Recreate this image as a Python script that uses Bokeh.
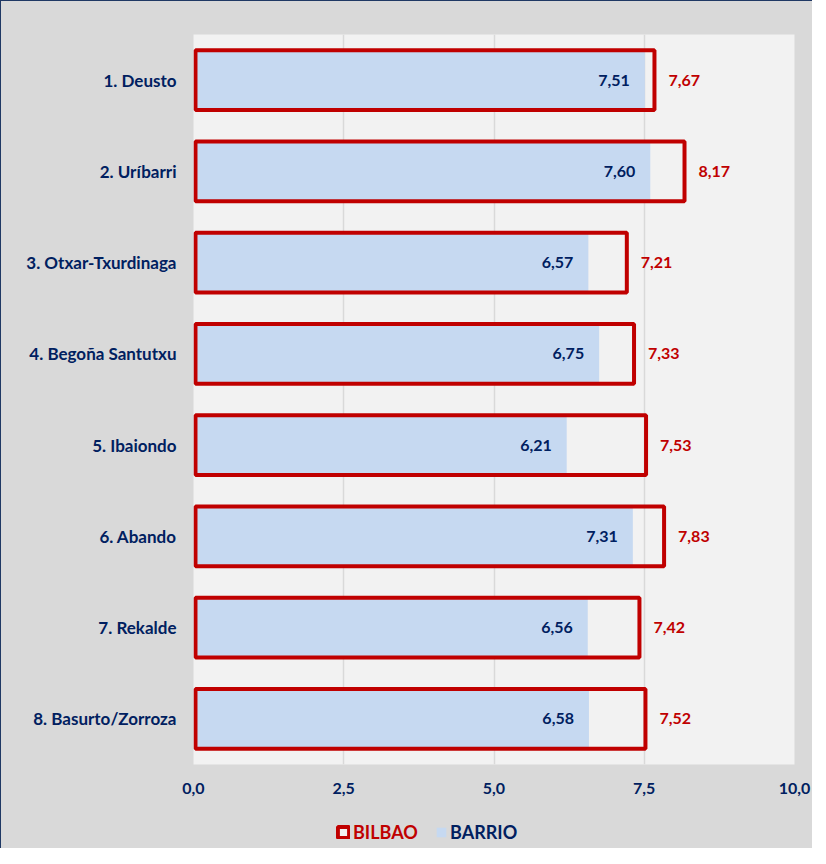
from bokeh.plotting import figure
from bokeh.layouts import column
from bokeh.models import FactorRange, Range1d, FixedTicker, ColumnDataSource, Legend, LegendItem
from bokeh.embed import file_html
from bokeh.resources import INLINE
from bokeh.core.properties import value

barrios = ["1. Deusto", "2. Uríbarri", "3. Otxar-Txurdinaga", "4. Begoña Santutxu",
           "5. Ibaiondo", "6. Abando", "7. Rekalde", "8. Basurto/Zorroza"]
barrio_vals = [7.51, 7.60, 6.57, 6.75, 6.21, 7.31, 6.56, 6.58]
bilbao_vals = [7.67, 8.17, 7.21, 7.33, 7.53, 7.83, 7.42, 7.52]
x_ticks = [0, 2.5, 5, 7.5, 10]
x_tick_labels = ["0,0", "2,5", "5,0", "7,5", "10,0"]
series_names = ["BILBAO", "BARRIO"]

NAVY = "#002060"
RED = "#C00000"
BLUE = "#C6D9F1"
BG = "#D9D9D9"
FONT = "Lato"
W = 812
ML, MR = 192, 19

src = ColumnDataSource(dict(
    cat=barrios,
    barrio=barrio_vals,
    bilbao=bilbao_vals,
    barrio_lbl=[f"{v:.2f}".replace(".", ",") for v in barrio_vals],
    bilbao_lbl=[f"{v:.2f}".replace(".", ",") for v in bilbao_vals],
))

p = figure(width=W, height=805,
           y_range=FactorRange(factors=list(reversed(barrios)), range_padding=0),
           x_range=Range1d(0, 10),
           output_backend="svg", toolbar_location=None,
           min_border_left=ML, min_border_right=MR, min_border_top=33, min_border_bottom=42)
p.styles = {"border-left": "1px solid #1F3864", "border-top": "1px solid #1F3864",
            "background-color": BG}

p.background_fill_color = "#F2F2F2"
p.border_fill_color = BG
p.outline_line_color = None

p.xaxis.ticker = FixedTicker(ticks=x_ticks)
p.xaxis.major_label_overrides = dict(zip(x_ticks, x_tick_labels))
p.xgrid.ticker = FixedTicker(ticks=x_ticks)
p.xgrid.grid_line_color = "#D9D9D9"
p.xgrid.grid_line_width = 1.5
p.ygrid.grid_line_color = None

for ax in (p.xaxis, p.yaxis):
    ax.axis_line_color = None
    ax.major_tick_line_color = None
    ax.minor_tick_line_color = None
    ax.major_tick_out = 0
    ax.major_tick_in = 0
    ax.minor_tick_out = 0
    ax.major_label_text_font = FONT
    ax.major_label_text_font_style = "bold"
    ax.major_label_text_color = NAVY
p.yaxis.major_label_text_font_size = "17px"
p.xaxis.major_label_text_font_size = "16px"
p.yaxis.major_label_standoff = 17
p.xaxis.major_label_standoff = 18

p.hbar(y="cat", left=0, right="barrio", height=0.657, source=src,
       fill_color=BLUE, line_color=None)
p.hbar(y="cat", left=0.033, right="bilbao", height=0.657, source=src,
       fill_color=None, line_color=RED, line_width=4)

p.text(x="barrio", y="cat", text="barrio_lbl", source=src, x_offset=-15,
       text_align="right", text_baseline="middle", text_color=NAVY,
       text_font=value(FONT), text_font_style="bold", text_font_size="16px")
p.text(x="bilbao", y="cat", text="bilbao_lbl", source=src, x_offset=14,
       text_align="left", text_baseline="middle", text_color=RED,
       text_font=value(FONT), text_font_style="bold", text_font_size="16px")

# legend strip (hidden proxy renderers that only supply the legend icons)
lg_fig = figure(width=W, height=43, x_range=Range1d(0, 10),
                y_range=FactorRange(factors=barrios),
                output_backend="svg", toolbar_location=None,
                min_border_left=ML, min_border_right=MR,
                min_border_top=0, min_border_bottom=0)
lg_fig.styles = {"border-left": "1px solid #1F3864", "background-color": BG}
lg_fig.axis.visible = False
lg_fig.grid.visible = False
lg_fig.background_fill_alpha = 0
lg_fig.border_fill_alpha = 0
lg_fig.outline_line_color = None

r_bilbao = lg_fig.hbar(y="cat", left=0, right="bilbao", height=0.657, source=src,
                       fill_color="#F2F2F2", line_color=RED, line_width=4)
r_barrio = lg_fig.hbar(y="cat", left=0, right="barrio", height=0.657, source=src,
                       fill_color=BLUE, line_color=None)
r_bilbao.visible = False
r_barrio.visible = False

def make_legend(label, renderer, color, loc, gsize):
    lg = Legend(items=[LegendItem(label=label, renderers=[renderer], index=0)],
                location=loc, orientation="horizontal", click_policy="none",
                glyph_width=gsize, glyph_height=gsize, label_standoff=3,
                padding=0, margin=0, spacing=0,
                border_line_color=None, background_fill_alpha=0,
                inactive_fill_alpha=0,
                label_text_font=FONT, label_text_font_style="bold",
                label_text_font_size="18px", label_text_color=color,
                label_height=18)
    lg_fig.add_layout(lg, "center")

make_legend(series_names[0], r_bilbao, RED, (338 - 195, 5), 14)
make_legend(series_names[1], r_barrio, NAVY, (437 - 195, 5), 12)

layout = column(p, lg_fig, spacing=0, styles={"background-color": BG})
open("out.html", "w").write(file_html(layout, INLINE))
